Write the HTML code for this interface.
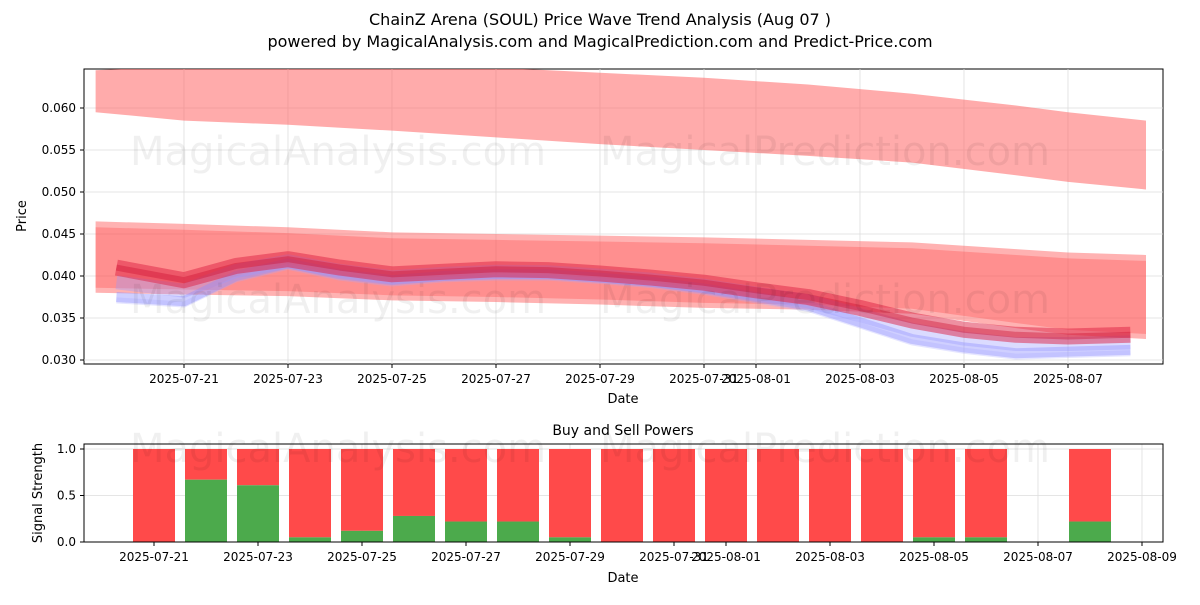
<!DOCTYPE html>
<html><head><meta charset="utf-8"><style>
body{margin:0;background:#fff;font-family:"Liberation Sans","DejaVu Sans",sans-serif;}
svg text{font-family:"DejaVu Sans","Liberation Sans",sans-serif;}
</style></head><body>
<svg id="c" width="1200" height="600" xmlns="http://www.w3.org/2000/svg">
<text x="600" y="25" text-anchor="middle" font-size="16">ChainZ Arena (SOUL) Price Wave Trend Analysis (Aug 07 )</text>
<text x="600" y="47" text-anchor="middle" font-size="16">powered by MagicalAnalysis.com and MagicalPrediction.com and Predict-Price.com</text>
<g id="topg"></g><g id="botg"></g>
</svg>
<script>
// ---- data ----
const bandDays=[-1.7,0,2,4,6,8,10,12,14,16,17,18.5]; // offset from 2025-07-21
const farUpper=[0.0645,0.0650,0.0652,0.0651,0.0648,0.0642,0.0636,0.0628,0.0617,0.0603,0.0595,0.0585];
const farLower=[0.0595,0.0585,0.0580,0.0573,0.0565,0.0557,0.0550,0.0543,0.0535,0.0520,0.0512,0.0503];
const nearUpper=[0.0465,0.0462,0.0458,0.0452,0.0450,0.0448,0.0446,0.0443,0.0440,0.0432,0.0428,0.0425];
const nearLower=[0.0380,0.0378,0.0376,0.0371,0.0369,0.0366,0.0362,0.0360,0.0355,0.0338,0.0330,0.0325];
const lineDays=[-1.3,0,1,2,3,4,5,6,7,8,9,10,11,12,13,14,15,16,17,18.2];
const center=[0.0410,0.0395,0.0412,0.0420,0.0410,0.0402,0.0405,0.0408,0.0407,0.0403,0.0398,0.0392,0.0383,0.0375,0.0362,0.0347,0.0336,0.0330,0.0328,0.0330];
const blueLow=[0.0375,0.0370,0.0400,0.0415,0.0402,0.0395,0.0400,0.0402,0.0402,0.0398,0.0393,0.0385,0.0375,0.0365,0.0345,0.0325,0.0315,0.0308,0.0310,0.0312];
const barDays=[0,1,2,3,4,5,6,7,8,9,10,11,12,13,14,15,16,18];
const buyPower=[0,0.67,0.61,0.05,0.12,0.28,0.22,0.22,0.05,0,0,0,0,0,0,0.05,0.05,0.22];
const tickLabels=["2025-07-21","2025-07-23","2025-07-25","2025-07-27","2025-07-29","2025-07-31","2025-08-01","2025-08-03","2025-08-05","2025-08-07"];
const tickDays=[0,2,4,6,8,10,11,13,15,17];
const botTickLabels=["2025-07-21","2025-07-23","2025-07-25","2025-07-27","2025-07-29","2025-07-31","2025-08-01","2025-08-03","2025-08-05","2025-08-07","2025-08-09"];
const botTickDays=[0,2,4,6,8,10,11,13,15,17,19];
const yTicks=[0.030,0.035,0.040,0.045,0.050,0.055,0.060];
const NS="http://www.w3.org/2000/svg";
function el(p,t,a){const e=document.createElementNS(NS,t);for(const k in a)e.setAttribute(k,a[k]);p.appendChild(e);return e;}
const xT=d=>184+d*52, yT=v=>108+(0.060-v)/0.005*42;
const xB=d=>154+d*52, yB=v=>542-v*93;
const gTop=document.getElementById('topg'), gBot=document.getElementById('botg');
const clip=el(gTop,'clipPath',{id:'pc'});el(clip,'rect',{x:84,y:69,width:1079,height:295});
let r=el(gTop,'rect',{x:84,y:69,width:1079,height:295,fill:'none',stroke:'#000','stroke-width':1});

yTicks.forEach(v=>{const y=yT(v);
 el(gTop,'line',{x1:84,x2:1163,y1:y,y2:y,stroke:'#ddd','stroke-width':0.8});
 el(gTop,'line',{x1:80,x2:84,y1:y,y2:y,stroke:'#000'});
 const t=el(gTop,'text',{x:76,y:y+4,'text-anchor':'end','font-size':12});t.textContent=v.toFixed(3);
 });
tickDays.forEach((d,i)=>{const x=xT(d);
 el(gTop,'line',{x1:x,x2:x,y1:69,y2:364,stroke:'#ddd','stroke-width':0.8});
 el(gTop,'line',{x1:x,x2:x,y1:364,y2:368,stroke:'#000'});
 const t=el(gTop,'text',{x:x,y:383,'text-anchor':'middle','font-size':12});t.textContent=tickLabels[i];
 });
const marks=el(gTop,'g',{'clip-path':'url(#pc)'});
function band(p,up,lo,fill,op,name){let pts=bandDays.map((d,i)=>xT(d)+','+yT(up[i]));
 pts=pts.concat(bandDays.map((d,i)=>xT(d)+','+yT(lo[i])).reverse());
 const e=el(p,'polygon',{points:pts.join(' '),fill:fill,'fill-opacity':op});
 }
band(marks,farUpper,farLower,'#ff6666',0.55,'far-band');
band(marks,nearUpper,nearLower,'#ff6666',0.5,'near-band');
band(marks,nearUpper.map(v=>v-0.0007),nearLower.map(v=>v+0.0006),'#ff4d4d',0.35,'near-band-inner');
function line(p,vals,col,w,op,name){const e=el(p,'polyline',{points:lineDays.map((d,i)=>xT(d)+','+yT(vals[i])).join(' '),fill:'none',stroke:col,'stroke-width':w,'stroke-opacity':op,'stroke-linejoin':'round'});
 }
line(marks,blueLow,'#8888ff',10,0.4,'blue-wave-low');
line(marks,blueLow.map(v=>v-0.0004),'#aaaaff',6,0.3,'blue-wave-lower');
line(marks,center.map((v,i)=>(v+blueLow[i])/2),'#9999ff',14,0.35,'blue-wave-mid');
line(marks,center,'#dd2244',16,0.5,'center-wave');
line(marks,center,'#cc1133',6,0.4,'center-wave-core');
let t=el(gTop,'text',{x:623,y:403,'text-anchor':'middle','font-size':13});t.textContent='Date';

t=el(gTop,'text',{x:26,y:216,'text-anchor':'middle','font-size':13,transform:'rotate(-90 26 216)'});t.textContent='Price';

[[130,165],[600,165],[130,313],[600,313]].forEach((p,i)=>{const w=el(gTop,'text',{x:p[0],y:p[1],'font-size':40,fill:'#000','fill-opacity':0.06});
 w.textContent=i%2?'MagicalPrediction.com':'MagicalAnalysis.com';});
t=el(gBot,'text',{x:623,y:435,'text-anchor':'middle','font-size':14});t.textContent='Buy and Sell Powers';

[0,0.5,1].forEach(v=>{const y=yB(v);el(gBot,'line',{x1:84,x2:1163,y1:y,y2:y,stroke:'#ddd','stroke-width':0.8});
 el(gBot,'line',{x1:80,x2:84,y1:y,y2:y,stroke:'#000'});
 const q=el(gBot,'text',{x:76,y:y+4,'text-anchor':'end','font-size':12});q.textContent=v.toFixed(1);
 });
botTickDays.forEach((d,i)=>{const x=xB(d);el(gBot,'line',{x1:x,x2:x,y1:444,y2:542,stroke:'#ddd','stroke-width':0.8});
 el(gBot,'line',{x1:x,x2:x,y1:542,y2:546,stroke:'#000'});
 const q=el(gBot,'text',{x:x,y:561,'text-anchor':'middle','font-size':12});q.textContent=botTickLabels[i];
 });
barDays.forEach((d,i)=>{const x=xB(d)-21,b=buyPower[i];
 const s=el(gBot,'rect',{x:x,y:yB(1),width:42,height:yB(b)-yB(1),fill:'#ff4a4a'});
 
 const g=el(gBot,'rect',{x:x,y:yB(b),width:42,height:yB(0)-yB(b),fill:'#4caa4c'});
 });
r=el(gBot,'rect',{x:84,y:444,width:1079,height:98,fill:'none',stroke:'#000'});

t=el(gBot,'text',{x:623,y:582,'text-anchor':'middle','font-size':13});t.textContent='Date';

t=el(gBot,'text',{x:42,y:493,'text-anchor':'middle','font-size':13,transform:'rotate(-90 42 493)'});t.textContent='Signal Strength';

[[130,462],[600,462]].forEach((p,i)=>{const w=el(gBot,'text',{x:p[0],y:p[1],'font-size':40,fill:'#000','fill-opacity':0.06});
 w.textContent=i?'MagicalPrediction.com':'MagicalAnalysis.com';});
</script>
</body></html>
